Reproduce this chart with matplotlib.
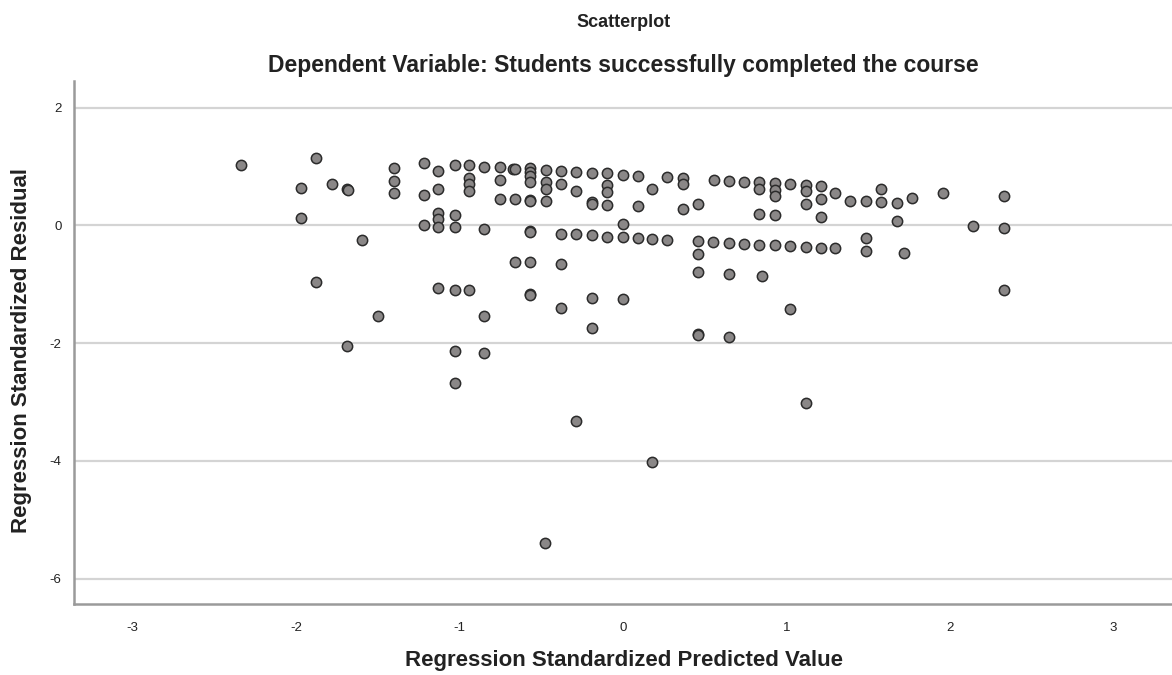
import matplotlib.pyplot as plt

plt.rcParams['font.family'] = ['Liberation Sans', 'DejaVu Sans']
plt.rcParams['axes.unicode_minus'] = False

# standardized predicted value (x) and standardized residual (y)
pred = [-2.34, -1.88, -1.97, -1.78, -1.69, -1.97, -1.60, -1.88, -1.69, -1.50,
        -1.68, -1.40, -1.40, -1.40,
        -1.22, -1.22, -1.22,
        -1.13, -1.13, -1.13, -1.13, -1.13, -1.13,
        -1.03, -1.03, -1.03, -1.03, -1.03, -1.03,
        -0.94, -0.94, -0.94, -0.94, -0.94,
        -0.85, -0.85, -0.85, -0.85,
        -0.75, -0.75, -0.75,
        -0.67, -0.66, -0.66, -0.66,
        -0.57, -0.57, -0.57, -0.57, -0.57, -0.57, -0.57, -0.57, -0.57, -0.57, -0.57,
        -0.48, -0.47, -0.47, -0.47, -0.47,
        -0.38, -0.38, -0.38, -0.38, -0.38,
        -0.29, -0.29, -0.29, -0.29,
        -0.19, -0.19, -0.19, -0.19, -0.19, -0.19,
        -0.10, -0.10, -0.10, -0.10, -0.10,
        0.00, 0.00, 0.00, 0.00,
        0.09, 0.09, 0.09,
        0.18, 0.18, 0.18,
        0.27, 0.27,
        0.37, 0.37, 0.37,
        0.46, 0.46, 0.46, 0.46, 0.46, 0.46,
        0.56, 0.55,
        0.65, 0.65, 0.65, 0.65,
        0.74, 0.74,
        0.83, 0.83, 0.83, 0.83, 0.85,
        0.93, 0.93, 0.93, 0.93, 0.93,
        1.02, 1.02, 1.02,
        1.12, 1.12, 1.12, 1.12, 1.12,
        1.21, 1.21, 1.21, 1.21,
        1.30, 1.30,
        1.39, 1.49, 1.49, 1.49,
        1.58, 1.58, 1.68, 1.68, 1.72, 1.77,
        1.96, 2.14, 2.33, 2.33, 2.33]
resid = [1.02, 1.15, 0.64, 0.71, 0.61, 0.12, -0.25, -0.96, -2.04, -1.54,
         0.60, 0.98, 0.76, 0.55,
         1.05, 0.52, 0.00,
         0.93, 0.61, 0.21, 0.11, -0.03, -1.07,
         1.03, 0.18, -0.03, -1.09, -2.14, -2.67,
         1.02, 0.81, 0.71, 0.58, -1.10,
         0.99, -0.06, -1.54, -2.17,
         0.99, 0.77, 0.45,
         0.96, 0.96, 0.44, -0.62,
         0.98, 0.91, 0.83, 0.73, 0.43, 0.41, -0.10, -0.12, -0.63, -1.16, -1.18,
         -5.39, 0.94, 0.73, 0.62, 0.42,
         0.92, 0.71, -0.15, -0.66, -1.40,
         0.91, 0.59, -0.15, -3.32,
         0.89, 0.40, 0.36, -0.17, -1.23, -1.75,
         0.88, 0.68, 0.56, 0.34, -0.19,
         0.86, 0.02, -0.20, -1.25,
         0.84, 0.32, -0.22,
         0.62, -0.23, -4.02,
         0.82, -0.25,
         0.80, 0.71, 0.27,
         0.37, -0.27, -0.49, -0.80, -1.85, -1.87,
         0.77, -0.28,
         0.76, -0.30, -0.82, -1.89,
         0.74, -0.32,
         0.73, 0.62, 0.20, -0.33, -0.86,
         0.72, 0.60, 0.50, 0.18, -0.34,
         0.70, -0.35, -1.42,
         0.69, 0.58, 0.37, -0.37, -3.01,
         0.67, 0.45, 0.14, -0.38,
         0.55, -0.39,
         0.42, 0.41, -0.22, -0.44,
         0.61, 0.40, 0.38, 0.07, -0.47, 0.47,
         0.55, -0.01, 0.49, -0.04, -1.10]

xticks = [-3, -2, -1, 0, 1, 2, 3]
yticks = [-6, -4, -2, 0, 2]

fig = plt.figure(figsize=(11.72, 6.75), dpi=100)
ax = fig.add_axes([0.0631, 0.105, 0.9369, 0.775])

ax.scatter(pred, resid, s=55, facecolor='#8a8787', edgecolor='#2b2b2b',
           linewidths=1.1, zorder=3)

ax.set_xlim(-3.36, 3.36)
ax.set_ylim(-6.43, 2.45)
ax.set_xticks(xticks)
ax.set_yticks(yticks)
ax.tick_params(length=0, labelsize=9.5, colors='#222222', pad=9)
ax.tick_params(axis='x', pad=13)
ax.yaxis.grid(True, color='#d4d4d4', linewidth=1.6)
ax.set_axisbelow(True)

for s in ['top', 'right']:
    ax.spines[s].set_visible(False)
for s in ['left', 'bottom']:
    ax.spines[s].set_color('#9a9a9a')
    ax.spines[s].set_linewidth(1.8)

fig.text(0.532, 0.966, 'Scatterplot', ha='center', va='center',
         fontsize=13, fontweight='bold', color='#222222')
fig.text(0.532, 0.903, 'Dependent Variable: Students successfully completed the course',
         ha='center', va='center', fontsize=16.5, fontweight='bold', color='#222222')
fig.text(0.532, 0.022, 'Regression Standardized Predicted Value', ha='center',
         va='center', fontsize=16, fontweight='bold', color='#222222')
fig.text(0.018, 0.481, 'Regression Standardized Residual', ha='center', va='center',
         rotation=90, fontsize=16, fontweight='bold', color='#222222')

fig.savefig('out.png', dpi=100)
